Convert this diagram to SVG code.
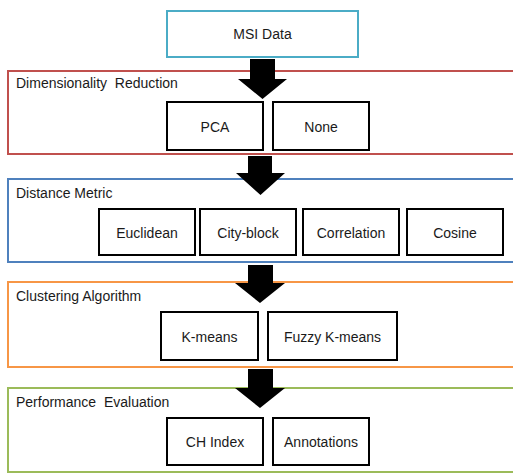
<svg xmlns="http://www.w3.org/2000/svg" width="513" height="473" viewBox="0 0 513 473">
  <style>
    .stage { fill: #ffffff; stroke-width: 2; }
    .box { fill: #ffffff; stroke: #000000; stroke-width: 2; }
    .lbl { font-family: "Liberation Sans", Arial, sans-serif; font-size: 14px; fill: #1a1a1a; }
    .mid { text-anchor: middle; }
    .arrow { fill: #000000; }
  </style>
  <rect width="513" height="473" fill="#ffffff"/>

  <!-- stage frames -->
  <g id="stage-dim">
    <rect class="stage" x="8" y="71" width="515" height="83" stroke="#C0504D"/>
    <text class="lbl" x="16" y="88">Dimensionality&#160; Reduction</text>
  </g>
  <g id="stage-dist">
    <rect class="stage" x="8" y="179" width="515" height="83" stroke="#4F81BD"/>
    <text class="lbl" x="16" y="198">Distance Metric</text>
  </g>
  <g id="stage-clust">
    <rect class="stage" x="8" y="282" width="515" height="85" stroke="#F79646"/>
    <text class="lbl" x="16" y="301">Clustering Algorithm</text>
  </g>
  <g id="stage-perf">
    <rect class="stage" x="8" y="388" width="515" height="84" stroke="#9BBB59"/>
    <text class="lbl" x="16" y="407">Performance&#160; Evaluation</text>
  </g>

  <!-- input -->
  <g id="msi-data">
    <rect x="167" y="11" width="191" height="46" fill="#ffffff" stroke="#4BACC6" stroke-width="2"/>
    <text class="lbl mid" x="262.5" y="38.5">MSI Data</text>
  </g>

  <!-- option nodes -->
  <g id="pca">
    <rect class="box" x="167" y="102" width="96" height="48"/>
    <text class="lbl mid" x="215" y="132">PCA</text>
  </g>
  <g id="none">
    <rect class="box" x="273" y="102" width="96" height="48"/>
    <text class="lbl mid" x="321" y="132">None</text>
  </g>

  <g id="euclidean">
    <rect class="box" x="99" y="209" width="96" height="46"/>
    <text class="lbl mid" x="147" y="238">Euclidean</text>
  </g>
  <g id="city-block">
    <rect class="box" x="200" y="209" width="96" height="46"/>
    <text class="lbl mid" x="248" y="238">City-block</text>
  </g>
  <g id="correlation">
    <rect class="box" x="303" y="209" width="96" height="46"/>
    <text class="lbl mid" x="351" y="238">Correlation</text>
  </g>
  <g id="cosine">
    <rect class="box" x="407" y="209" width="96" height="46"/>
    <text class="lbl mid" x="455" y="238">Cosine</text>
  </g>

  <g id="k-means">
    <rect class="box" x="161" y="312" width="97" height="48"/>
    <text class="lbl mid" x="209.5" y="342">K-means</text>
  </g>
  <g id="fuzzy-k-means">
    <rect class="box" x="268" y="312" width="129" height="48"/>
    <text class="lbl mid" x="332.5" y="342">Fuzzy K-means</text>
  </g>

  <g id="ch-index">
    <rect class="box" x="167" y="418" width="96" height="47"/>
    <text class="lbl mid" x="215" y="447">CH Index</text>
  </g>
  <g id="annotations">
    <rect class="box" x="273" y="418" width="96" height="47"/>
    <text class="lbl mid" x="321" y="447">Annotations</text>
  </g>

  <!-- block arrows between stages -->
  <g id="connectors">
    <polygon class="arrow" points="250,59 275,59 275,79 287,79 262.5,99 238,79 250,79"/>
    <polygon class="arrow" points="248,156 272,156 272,173 285,173 260.5,195 236,173 248,173"/>
    <polygon class="arrow" points="248,265 273,265 273,283 285,283 260,303 235,283 248,283"/>
    <polygon class="arrow" points="248,369 273,369 273,388 285,388 260,408 235,388 248,388"/>
  </g>
</svg>
